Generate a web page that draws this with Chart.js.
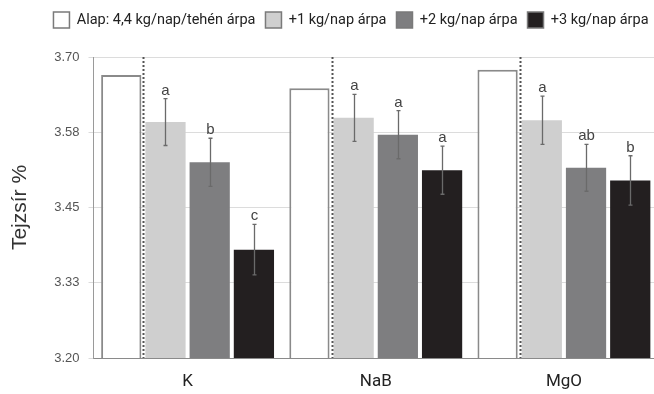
<!DOCTYPE html>
<html>
<head>
<meta charset="utf-8">
<script src="https://cdn.jsdelivr.net/npm/chart.js@4.4.1/dist/chart.umd.min.js"></script>
<style>
  html, body { margin: 0; padding: 0; background: #fff; overflow: hidden; }
  #wrap { width: 662px; height: 394px; }
</style>
</head>
<body>
<div id="wrap"><canvas id="chart" width="662" height="394"></canvas></div>
<script>
// data
const categories = ['K', 'NaB', 'MgO'];
const seriesNames = ['Alap: 4,4 kg/nap/tehén árpa', '+1 kg/nap árpa', '+2 kg/nap árpa', '+3 kg/nap árpa'];
const alap = [3.670, 3.648, 3.679];
const plus1 = [3.592, 3.599, 3.595];
const plus2 = [3.525, 3.571, 3.516];
const plus3 = [3.380, 3.512, 3.495];
const err1 = [0.039, 0.039, 0.040];
const err2 = [0.040, 0.040, 0.039];
const err3 = [0.042, 0.040, 0.041];
const letters1 = ['a', 'a', 'a'];
const letters2 = ['b', 'a', 'ab'];
const letters3 = ['c', 'a', 'b'];
const yTickLabels = ['3.20', '3.33', '3.45', '3.58', '3.70'];

const errors = [null, err1, err2, err3];
const letters = [null, letters1, letters2, letters3];

// extra room under the legend, legend nudged right
const legendGap = {
  id: 'legendGap',
  beforeInit(chart) {
    const fit = chart.legend.fit;
    chart.legend.fit = function () {
      fit.bind(chart.legend)();
      this.height += 19;
    };
  },
  beforeDraw(chart) {
    chart.legend.left += 18;
    chart.legend.right += 18;
  },
  afterDraw(chart) {
    chart.legend.left -= 18;
    chart.legend.right -= 18;
  }
};

// dotted separator + error bars + letters
const overlay = {
  id: 'overlay',
  afterDatasetsDraw(chart) {
    const c = chart.ctx;
    const area = chart.chartArea;
    const y = chart.scales.y;
    c.save();
    const m1 = chart.getDatasetMeta(1).data;
    c.strokeStyle = '#555';
    c.lineWidth = 2;
    c.setLineDash([2, 2]);
    m1.forEach(bar => {
      const x = Math.round(bar.x - bar.width / 2) - 1.5;
      c.beginPath();
      c.moveTo(x, area.top);
      c.lineTo(x, area.bottom);
      c.stroke();
    });
    c.setLineDash([]);
    for (let d = 1; d < 4; d++) {
      const meta = chart.getDatasetMeta(d).data;
      const vals = chart.data.datasets[d].data;
      meta.forEach((bar, i) => {
        const x = Math.round(bar.x) + 0.5;
        const top = y.getPixelForValue(vals[i] + errors[d][i]);
        const bot = y.getPixelForValue(vals[i] - errors[d][i]);
        c.strokeStyle = '#6a6a6a';
        c.lineWidth = 1.3;
        c.beginPath();
        c.moveTo(x, top); c.lineTo(x, bot);
        c.moveTo(x - 2, top); c.lineTo(x + 2, top);
        c.moveTo(x - 2, bot); c.lineTo(x + 2, bot);
        c.stroke();
        c.fillStyle = '#444';
        c.font = '15px "Liberation Sans", Arial, sans-serif';
        c.textAlign = 'center';
        c.textBaseline = 'alphabetic';
        c.fillText(letters[d][i], x, top - 4);
      });
    }
    c.restore();
  }
};

new Chart(document.getElementById('chart'), {
  type: 'bar',
  data: {
    labels: categories,
    datasets: [
      { label: seriesNames[0], data: alap, backgroundColor: '#ffffff', borderColor: '#8a8a8a', borderWidth: 2 },
      { label: seriesNames[1], data: plus1, backgroundColor: '#cfcfcf', borderWidth: 0 },
      { label: seriesNames[2], data: plus2, backgroundColor: '#7e7e80', borderWidth: 0 },
      { label: seriesNames[3], data: plus3, backgroundColor: '#231f20', borderWidth: 0 }
    ]
  },
  options: {
    responsive: false,
    animation: false,
    categoryPercentage: 0.94,
    barPercentage: 0.91,
    layout: { padding: { left: 8, right: 4, top: 2, bottom: 0 } },
    plugins: {
      tooltip: { enabled: false },
      legend: {
        position: 'top',
        labels: {
          boxWidth: 16,
          boxHeight: 16,
          padding: 10,
          color: '#222',
          font: { family: 'Roboto, sans-serif', size: 14.5 },
          generateLabels(chart) {
            const items = Chart.defaults.plugins.legend.labels.generateLabels(chart);
            items.forEach(it => { it.strokeStyle = '#7a7a7a'; it.lineWidth = 1.5; });
            return items;
          }
        }
      }
    },
    scales: {
      x: {
        afterFit(scale) { scale.height = 36; },
        grid: { display: false, drawTicks: false },
        border: { display: true, color: '#8a8a8a', width: 1 },
        ticks: { color: '#222', font: { family: 'Roboto, sans-serif', size: 17 }, padding: 14 }
      },
      y: {
        min: 3.2,
        max: 3.7,
        grid: { color: '#dcdcdc', tickLength: 5 },
        border: { display: true, color: '#9a9a9a', width: 1 },
        ticks: {
          stepSize: 0.125,
          color: '#555',
          padding: 9,
          font: { family: '"Liberation Sans", Arial, sans-serif', size: 13 },
          callback: (v, i) => yTickLabels[i]
        },
        title: {
          display: true,
          text: 'Tejzsír %',
          color: '#333',
          font: { family: '"Liberation Sans", Arial, sans-serif', size: 21 },
          padding: { top: 0, bottom: 12 }
        }
      }
    }
  },
  plugins: [legendGap, overlay]
});
</script>
</body>
</html>
